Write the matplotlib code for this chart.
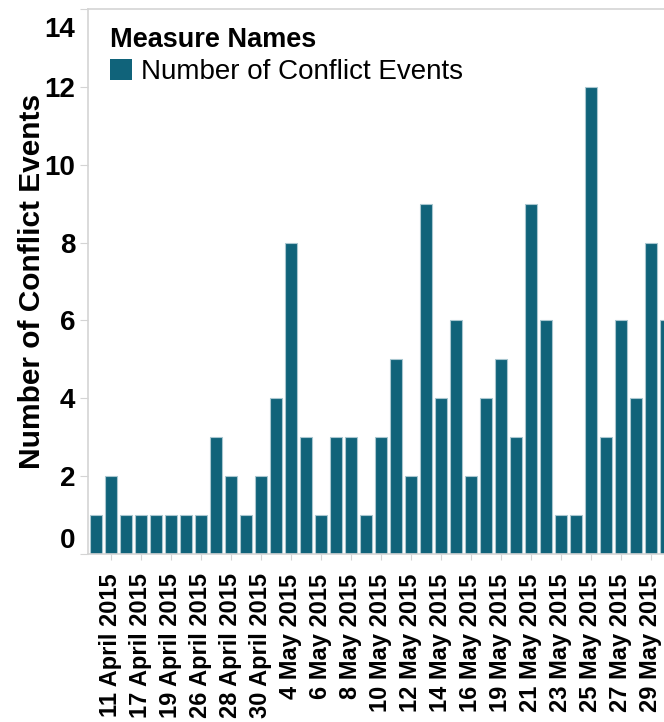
import numpy as np
import matplotlib
matplotlib.use('Agg')
import matplotlib.pyplot as plt
import matplotlib.transforms as mtransforms
from matplotlib.patches import Patch

plt.rcParams['font.family'] = ['Liberation Sans', 'DejaVu Sans']

# one bar per day with events; only every other day gets a label
counts = [1, 2, 1, 1, 1, 1, 1, 1, 3, 2, 1, 2, 4, 8, 3, 1, 3, 3, 1, 3,
          5, 2, 9, 4, 6, 2, 4, 5, 3, 9, 6, 1, 1, 12, 3, 6, 4, 8, 6]
date_labels = ['11 April 2015', '17 April 2015', '19 April 2015', '26 April 2015',
               '28 April 2015', '30 April 2015', '4 May 2015', '6 May 2015',
               '8 May 2015', '10 May 2015', '12 May 2015', '14 May 2015',
               '16 May 2015', '19 May 2015', '21 May 2015', '23 May 2015',
               '25 May 2015', '27 May 2015', '29 May 2015']

bar_color = '#10637a'
grey = '#d4d4d4'

fig = plt.figure(figsize=(6.64, 7.22), dpi=100)
ax = fig.add_axes([88/664, 168/722, 585.5/664, 545/722])

x = np.arange(len(counts))
ax.bar(x, counts, width=0.8, color=bar_color, edgecolor='#a9c7d0', linewidth=0.8)

ax.set_xlim(-0.533, len(counts) - 0.5)
ax.set_ylim(0, 14)
ax.set_yticks(range(0, 15, 2))
ax.set_xticks(x[1::2])
ax.set_xticklabels(date_labels, rotation=90, fontsize=17, fontweight='bold')
ax.tick_params(axis='x', length=4, color=grey, pad=10)
ax.tick_params(axis='y', length=6, color=grey, pad=3, labelsize=20)
for lbl in ax.get_yticklabels():
    lbl.set_fontweight('bold')
ylbls = ax.get_yticklabels()
ylbls[0].set_verticalalignment('bottom')
ylbls[-1].set_verticalalignment('top')
ylbls[-1].set_transform(ylbls[-1].get_transform() +
                        mtransforms.ScaledTranslation(0, -8/100, fig.dpi_scale_trans))

for side in ['left', 'top', 'bottom']:
    ax.spines[side].set_color(grey)
    ax.spines[side].set_linewidth(1.2)
ax.spines['right'].set_visible(False)

ax.set_ylabel('Number of Conflict Events', fontsize=21.5, fontweight='bold')
ax.yaxis.set_label_coords(-0.072, 0.5)

leg = ax.legend(handles=[Patch(facecolor=bar_color, label='Number of Conflict Events')],
                title='Measure Names', loc='upper left',
                bbox_to_anchor=(110/664, 1 - 27/722), bbox_transform=fig.transFigure,
                frameon=False, alignment='left', fontsize=20,
                title_fontproperties={'weight': 'bold', 'size': 19.5},
                handlelength=0.8, handleheight=0.8, handletextpad=0.3,
                borderpad=0, borderaxespad=0, labelspacing=0.2)

fig.savefig('out.png', dpi=100)
